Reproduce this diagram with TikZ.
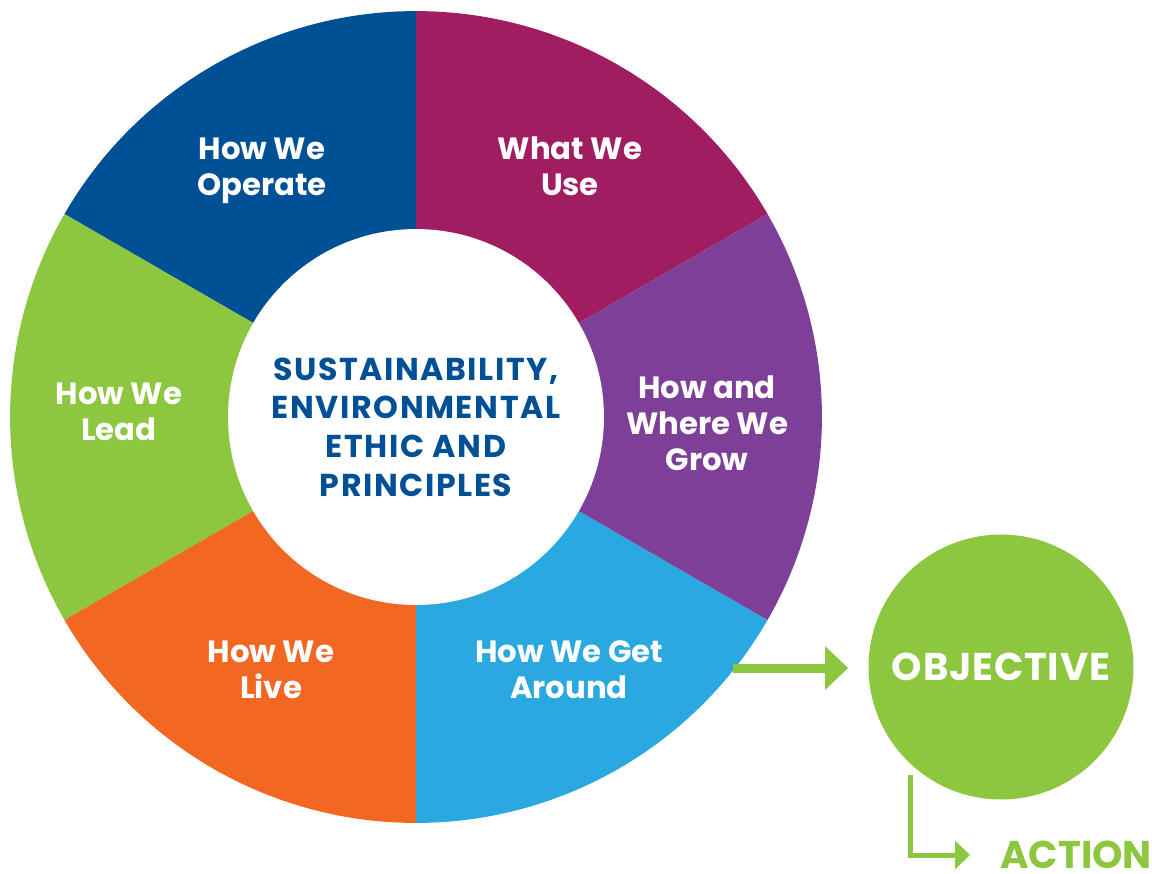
\documentclass[tikz,border=0pt]{standalone}
\usepackage{fontspec}
\setmainfont{Poppins}
\newfontfamily\popsp{Poppins}[LetterSpace=5]
\newfontfamily\popob{Poppins}[LetterSpace=2]
\usetikzlibrary{arrows.meta}
\definecolor{cdblue}{HTML}{005096}
\definecolor{cmag}{HTML}{A11D61}
\definecolor{cpurp}{HTML}{7E3F98}
\definecolor{clblue}{HTML}{29A9E0}
\definecolor{corange}{HTML}{F26722}
\definecolor{cgreen}{HTML}{8DC63F}
\tikzset{
  seglabel/.style={text=white, font=\bfseries\fontsize{17.5}{20.6}\selectfont, align=center, inner sep=0pt},
  centerlabel/.style={text=cdblue, font=\popsp\bfseries\fontsize{18}{22}\selectfont, align=center, inner sep=0pt},
}
\begin{document}
\begin{tikzpicture}[x=0.02cm, y=0.02cm]
\useasboundingbox (0,0) rectangle (1152,-873);
\coordinate (C) at (416,-417);
\fill[cmag]    (C) -- +(30:8.12cm)  arc[start angle=30,  end angle=90,  radius=8.12cm] -- cycle;
\fill[cdblue]  (C) -- +(90:8.12cm)  arc[start angle=90,  end angle=150, radius=8.12cm] -- cycle;
\fill[cgreen]  (C) -- +(150:8.12cm) arc[start angle=150, end angle=210, radius=8.12cm] -- cycle;
\fill[corange] (C) -- +(210:8.12cm) arc[start angle=210, end angle=270, radius=8.12cm] -- cycle;
\fill[clblue]  (C) -- +(270:8.12cm) arc[start angle=270, end angle=330, radius=8.12cm] -- cycle;
\fill[cpurp]   (C) -- +(330:8.12cm) arc[start angle=330, end angle=390, radius=8.12cm] -- cycle;
\fill[white] (C) circle[radius=3.76cm];

\node[seglabel] (operate) at (262,-171) {How We\\Operate};
\node[seglabel] (use) at (570,-166) {What We\\Use};
\node[seglabel] (grow) at (707,-423) {How and\\Where We\\Grow};
\node[seglabel] (around) at (569,-670) {How We Get\\Around};
\node[seglabel] (live) at (271,-670) {How We\\Live};
\node[seglabel] (lead) at (119,-412) {How We\\Lead};
\node[centerlabel] (center) at (416,-427) {SUSTAINABILITY,\\ENVIRONMENTAL\\ETHIC AND\\PRINCIPLES};

\node[circle, fill=cgreen, minimum size=5.3cm, inner sep=0pt, text=white, font=\popob\bfseries\fontsize{22}{24}\selectfont] (obj) at (1001,-667) {OBJECTIVE};
\node[anchor=west, inner sep=0pt, text=cgreen, font=\bfseries\fontsize{22}{26}\selectfont] (act) at (1000,-855) {ACTION};

\coordinate (a1) at (733,-668);
\coordinate (c1) at (910,-775);
\draw[cgreen, line width=0.18cm, -{Triangle[length=0.46cm,width=0.84cm]}, shorten >=0.4cm] (a1) -- (obj.west |- a1);
\draw[cgreen, line width=0.1cm, -{Triangle[length=0.3cm,width=0.56cm]}, shorten >=0.6cm] (c1) |- (act.west);
\end{tikzpicture}
\end{document}
